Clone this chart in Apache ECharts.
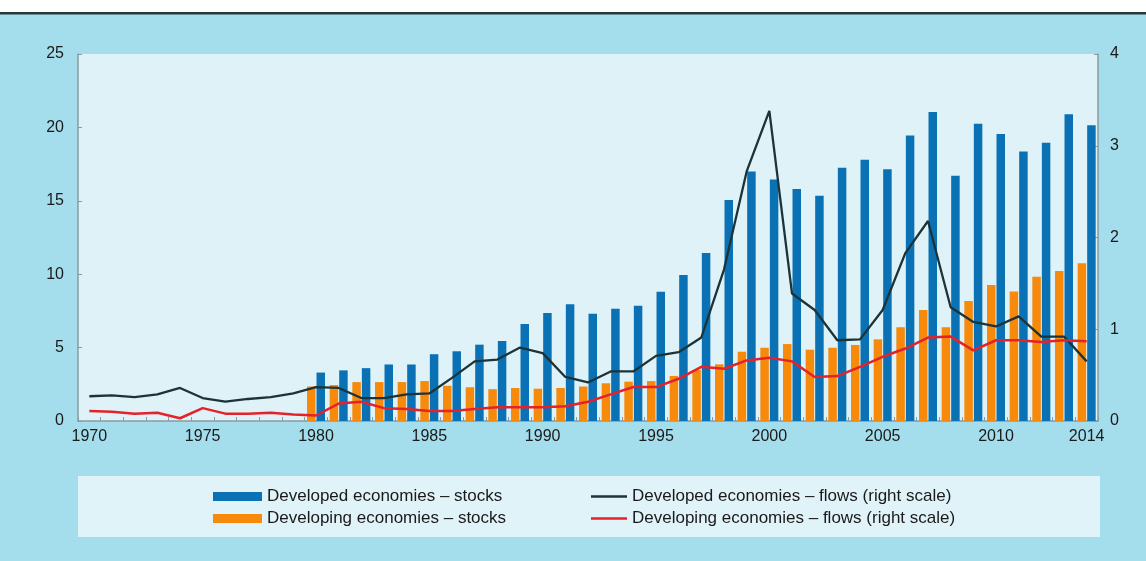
<!DOCTYPE html>
<html style="height: 100%">

<head>
    <meta charset="utf-8">
</head>

<body style="height: 100%; margin: 0; background: #a4ddec">
    <div id="container" style="width: 1146px; height: 561px"></div>
    <script type="text/javascript" src="https://cdn.jsdelivr.net/npm/echarts@6/dist/echarts.min.js"></script>
    <script type="text/javascript">
        // years on the x axis
        var years = ['1970', '1971', '1972', '1973', '1974', '1975', '1976', '1977', '1978', '1979',
            '1980', '1981', '1982', '1983', '1984', '1985', '1986', '1987', '1988', '1989',
            '1990', '1991', '1992', '1993', '1994', '1995', '1996', '1997', '1998', '1999',
            '2000', '2001', '2002', '2003', '2004', '2005', '2006', '2007', '2008', '2009',
            '2010', '2011', '2012', '2013', '2014'];
        var shownYears = ['1970', '1975', '1980', '1985', '1990', '1995', '2000', '2005', '2010', '2014'];

        // stocks, left scale (1970-1979 no data)
        var developedStocks = ['-', '-', '-', '-', '-', '-', '-', '-', '-', '-',
            3.3, 3.45, 3.6, 3.85, 3.85, 4.55, 4.75, 5.2, 5.45, 6.6,
            7.35, 7.95, 7.3, 7.65, 7.85, 8.8, 9.95, 11.45, 15.05, 17.0,
            16.45, 15.8, 15.35, 17.25, 17.8, 17.15, 19.45, 21.05, 16.7, 20.25,
            19.55, 18.35, 18.95, 20.9, 20.15];
        var developingStocks = ['-', '-', '-', '-', '-', '-', '-', '-', '-', '-',
            2.35, 2.45, 2.65, 2.65, 2.65, 2.72, 2.4, 2.3, 2.17, 2.25,
            2.2, 2.25, 2.35, 2.57, 2.68, 2.72, 3.07, 3.47, 3.86, 4.72,
            4.99, 5.24, 4.86, 4.99, 5.18, 5.56, 6.38, 7.56, 6.38, 8.17,
            9.26, 8.83, 9.83, 10.22, 10.74];

        // flows, right scale
        var developedFlows = [0.27, 0.28, 0.26, 0.29, 0.36, 0.25, 0.21, 0.24, 0.26, 0.30,
            0.37, 0.36, 0.25, 0.25, 0.29, 0.30, 0.47, 0.65, 0.67, 0.80,
            0.74, 0.48, 0.42, 0.54, 0.54, 0.71, 0.75, 0.91, 1.65, 2.72,
            3.38, 1.39, 1.21, 0.88, 0.89, 1.21, 1.83, 2.18, 1.24, 1.08,
            1.03, 1.14, 0.92, 0.92, 0.65];
        var developingFlows = [0.11, 0.10, 0.08, 0.09, 0.03, 0.14, 0.08, 0.08, 0.09, 0.07,
            0.06, 0.19, 0.21, 0.14, 0.13, 0.11, 0.11, 0.13, 0.15, 0.15,
            0.15, 0.16, 0.21, 0.29, 0.37, 0.37, 0.46, 0.59, 0.57, 0.66,
            0.69, 0.65, 0.48, 0.49, 0.59, 0.70, 0.79, 0.91, 0.92, 0.77,
            0.88, 0.88, 0.86, 0.88, 0.87];

        var names = ['Developed economies \u2013 stocks', 'Developing economies \u2013 stocks',
            'Developed economies \u2013 flows (right scale)', 'Developing economies \u2013 flows (right scale)'];

        var font = 'Liberation Sans';
        var axisGrey = '#8a9aa0';

        var dom = document.getElementById("container");
        var myChart = echarts.init(dom);
        var option = {
            backgroundColor: '#a4ddec',
            animation: false,
            textStyle: { fontFamily: font },
            graphic: [
                { type: 'rect', z: 0, shape: { x: 0, y: 0, width: 1146, height: 12 }, style: { fill: '#ffffff' } },
                { type: 'rect', z: 0, shape: { x: 0, y: 12, width: 1146, height: 2.5 }, style: { fill: '#26383a' } },
                // legend box
                { type: 'rect', z: 0, shape: { x: 78, y: 476, width: 1022, height: 61 }, style: { fill: '#e0f3f9' } }
            ],
            grid: {
                left: 78,
                right: 48,
                top: 54,
                bottom: 140,
                show: true,
                backgroundColor: '#def2f8',
                borderWidth: 0
            },
            legend: [{
                data: [names[0], names[1]],
                orient: 'vertical',
                left: 213,
                top: 488,
                padding: 0,
                itemWidth: 49,
                itemHeight: 9,
                itemGap: 5,
                icon: 'rect',
                textStyle: { fontSize: 17, color: '#1a1a1a', fontFamily: font }
            }, {
                data: [names[2], names[3]],
                orient: 'vertical',
                left: 591,
                top: 488,
                padding: 0,
                itemWidth: 36,
                itemHeight: 2.5,
                itemGap: 5,
                icon: 'rect',
                textStyle: { fontSize: 17, color: '#1a1a1a', fontFamily: font }
            }],
            xAxis: {
                type: 'category',
                data: years,
                axisLine: { lineStyle: { color: axisGrey, width: 1.5 } },
                axisTick: { show: true, inside: true, length: 4, interval: 0, lineStyle: { color: axisGrey } },
                axisLabel: {
                    interval: function (i, v) { return shownYears.indexOf(v) >= 0; },
                    fontSize: 16,
                    color: '#1a1a1a',
                    margin: 8
                },
                splitLine: { show: false }
            },
            yAxis: [{
                type: 'value',
                min: 0,
                max: 25,
                interval: 5,
                axisLine: { show: true, lineStyle: { color: axisGrey, width: 1.5 } },
                axisTick: { show: true, inside: true, length: 4, lineStyle: { color: axisGrey } },
                axisLabel: { fontSize: 16, color: '#1a1a1a', margin: 14 },
                splitLine: { show: false }
            }, {
                type: 'value',
                min: 0,
                max: 4,
                interval: 1,
                axisLine: { show: true, lineStyle: { color: axisGrey, width: 1.5 } },
                axisTick: { show: true, inside: true, length: 4, lineStyle: { color: axisGrey } },
                axisLabel: { fontSize: 16, color: '#1a1a1a', margin: 12 },
                splitLine: { show: false }
            }],
            series: [{
                name: names[1],
                type: 'bar',
                data: developingStocks,
                barWidth: 8.5,
                barGap: '12%',
                itemStyle: { color: '#f7890b' }
            }, {
                name: names[0],
                type: 'bar',
                data: developedStocks,
                barWidth: 8.5,
                itemStyle: { color: '#0a72b4' }
            }, {
                name: names[2],
                type: 'line',
                yAxisIndex: 1,
                data: developedFlows,
                symbol: 'none',
                lineStyle: { color: '#1c3338', width: 2.3 },
                itemStyle: { color: '#1c3338' }
            }, {
                name: names[3],
                type: 'line',
                yAxisIndex: 1,
                data: developingFlows,
                symbol: 'none',
                lineStyle: { color: '#e3222a', width: 2.5 },
                itemStyle: { color: '#e3222a' }
            }]
        };
        myChart.setOption(option, true);
    </script>
</body>

</html>
